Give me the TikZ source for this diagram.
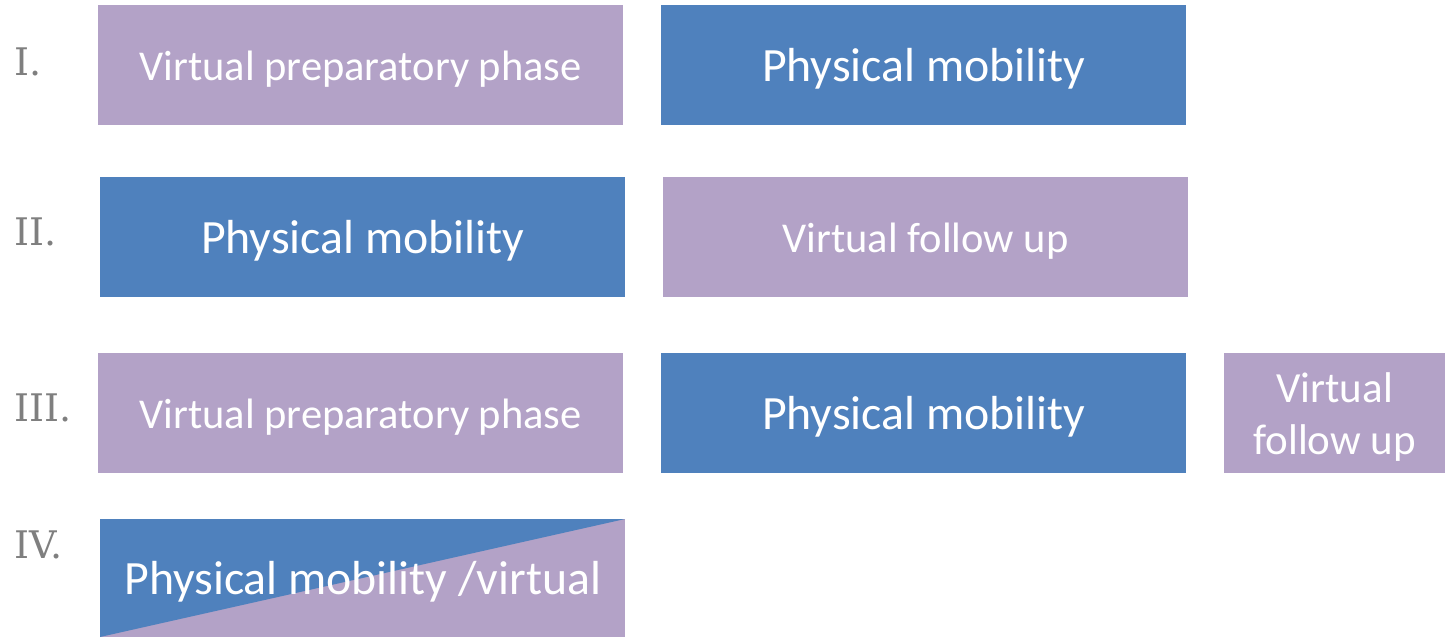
\documentclass[tikz,border=0pt]{standalone}
\usepackage{fontspec}
\setmainfont{Carlito}
\newfontfamily\labelfont{DejaVu Serif}
\definecolor{lav}{HTML}{B3A2C7}
\definecolor{blu}{HTML}{4F81BD}
\definecolor{numgray}{HTML}{7F7F7F}
\newcommand{\lowered}[1]{\raisebox{-4pt}[\height][\depth]{#1}}
\begin{document}
\begin{tikzpicture}[x=1pt,y=-1pt,
  box/.style={minimum width=525pt,minimum height=120pt,inner sep=0pt,anchor=north west,text=white,align=center},
  vbox/.style={box,fill=lav,font=\fontsize{42.5}{50}\selectfont},
  pbox/.style={box,fill=blu,font=\fontsize{47.8}{54}\selectfont},
  num/.style={anchor=west,text=numgray,font=\labelfont\fontsize{38}{40}\selectfont,inner sep=0pt}]
\useasboundingbox (0,0) rectangle (1445,637);
% Row I
\node[num] (n1) at (14,62) {I.};
\node[vbox] (a1) at (98,5) {\lowered{Virtual preparatory phase}};
\node[pbox] (b1) at (661,5) {\lowered{Physical mobility}};
% Row II
\node[num] (n2) at (14,232) {II.};
\node[pbox] (a2) at (100,177) {\lowered{Physical mobility}};
\node[vbox] (b2) at (663,177) {\lowered{Virtual follow up}};
% Row III
\node[num] (n3) at (14,408) {III.};
\node[vbox] (a3) at (98,353) {\lowered{Virtual preparatory phase}};
\node[pbox] (b3) at (661,353) {\lowered{Physical mobility}};
\node[vbox,minimum width=221pt,font=\fontsize{43}{52}\selectfont] (c3) at (1224,353) {\lowered{Virtual}\\\lowered{follow up}};
% Row IV
\node[num] (n4) at (14,545) {IV.};
\fill[lav] (100,519) rectangle (625,637);
\fill[blu] (100,519) -- (625,519) -- (100,637) -- cycle;
\node[box,font=\fontsize{47.8}{54}\selectfont,minimum height=118pt] (a4) at (100,519) {\lowered{Physical mobility /virtual}};
\end{tikzpicture}
\end{document}
